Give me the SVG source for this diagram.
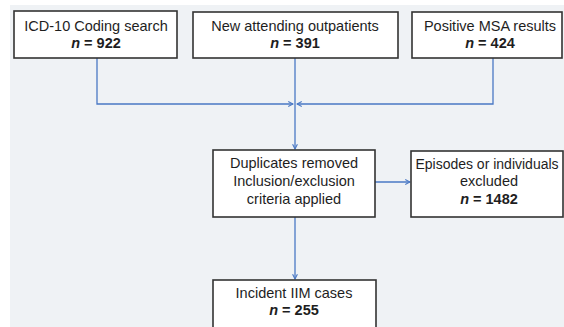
<svg xmlns="http://www.w3.org/2000/svg" width="564" height="327" viewBox="0 0 564 327">
<defs>
<marker id="ah" viewBox="0 0 10 10" refX="9" refY="5" markerWidth="6" markerHeight="6" orient="auto" markerUnits="userSpaceOnUse">
<path d="M1,1 L9,5 L1,9" fill="none" stroke="#4a78c4" stroke-width="1.8"/>
</marker>
<style>
.box{fill:#ffffff;stroke:#333333;stroke-width:1.6}
.t{font-family:"Liberation Sans",Arial,sans-serif;font-size:14.5px;fill:#1e1e1e;text-anchor:middle}
.n{font-weight:bold}
.i{font-style:italic}
.c{fill:none;stroke:#4a78c4;stroke-width:1.3}
</style>
</defs>
<rect x="0" y="0" width="564" height="327" fill="#ffffff"/>
<rect x="10" y="5" width="554" height="322" fill="#eff2f5"/>
<g id="connectors">
<polyline class="c" points="97,58 97,104 293,104" marker-end="url(#ah)"/>
<polyline class="c" points="493,58 493,104 297,104" marker-end="url(#ah)"/>
<line class="c" x1="295" y1="58" x2="295" y2="149" marker-end="url(#ah)"/>
<line class="c" x1="375" y1="182" x2="410" y2="182" marker-end="url(#ah)"/>
<line class="c" x1="295" y1="217" x2="295" y2="279" marker-end="url(#ah)"/>
</g>
<g id="n1">
<rect class="box" x="14" y="11" width="163" height="47"/>
<text class="t" x="96" y="31">ICD-10 Coding search</text>
<text class="t n" x="96" y="48"><tspan class="i">n</tspan> = 922</text>
</g>
<g id="n2">
<rect class="box" x="193" y="12" width="205" height="46"/>
<text class="t" x="295" y="31">New attending outpatients</text>
<text class="t n" x="295" y="48"><tspan class="i">n</tspan> = 391</text>
</g>
<g id="n3">
<rect class="box" x="412" y="12" width="150" height="46"/>
<text class="t" x="490" y="31">Positive MSA results</text>
<text class="t n" x="490" y="48"><tspan class="i">n</tspan> = 424</text>
</g>
<g id="n4">
<rect class="box" x="213" y="150" width="162" height="67"/>
<text class="t" x="294" y="168">Duplicates removed</text>
<text class="t" x="294" y="186">Inclusion/exclusion</text>
<text class="t" x="294" y="204">criteria applied</text>
</g>
<g id="n5">
<rect class="box" x="411" y="151" width="152" height="66"/>
<text class="t" x="487" y="169" style="font-size:14px">Episodes or individuals</text>
<text class="t" x="489" y="186">excluded</text>
<text class="t n" x="489" y="204"><tspan class="i">n</tspan> = 1482</text>
</g>
<g id="n6">
<rect class="box" x="213" y="280" width="163" height="50"/>
<text class="t" x="294" y="298">Incident IIM cases</text>
<text class="t n" x="294" y="315"><tspan class="i">n</tspan> = 255</text>
</g>
</svg>
